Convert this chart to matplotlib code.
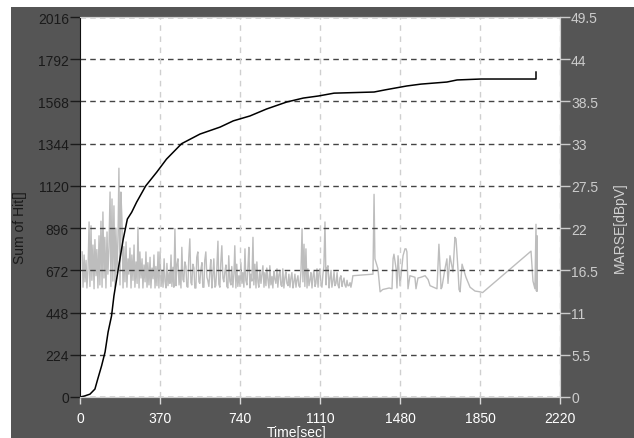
import matplotlib
matplotlib.use("Agg")
import matplotlib.pyplot as plt
from matplotlib.patches import Rectangle

plt.rcParams['font.family'] = ['Liberation Sans', 'DejaVu Sans']

# cumulative hits (left axis)
hit_t = [0, 20, 46, 69, 82, 100, 116, 130, 146, 157, 177, 200, 219, 239, 262, 304,
         355, 400, 470, 555, 648, 709, 786, 863, 956, 1033, 1103, 1175, 1360, 1414,
         1511, 1577, 1697, 1744, 1855, 2109, 2109]
hit_sum = [0, 5, 15, 42, 95, 166, 239, 345, 431, 537, 679, 838, 944, 980, 1034, 1120,
           1193, 1262, 1344, 1395, 1432, 1465, 1491, 1528, 1565, 1586, 1597, 1612, 1618, 1630,
           1650, 1660, 1671, 1682, 1687, 1687, 1724]

# MARSE (right axis)
marse_t = [10, 14, 19, 23, 28, 32, 37, 42, 46, 51, 55, 60, 65, 69, 74, 78, 83, 88, 92, 97,
           102, 106, 111, 115, 120, 125, 129, 134, 139, 143, 148, 152, 157, 162, 166, 171, 176, 180, 185, 189,
           194, 199, 203, 208, 213, 217, 222, 226, 231, 236, 240, 245, 250, 254, 259, 264, 268, 273, 277, 282,
           287, 291, 296, 301, 305, 310, 314, 319, 324, 328, 333, 338, 342, 347, 351, 356, 361, 365, 370, 375,
           380, 384, 389, 393, 398, 402, 407, 412, 416, 421, 425, 430, 434, 439, 444, 448, 453, 458, 462, 467,
           471, 476, 480, 485, 490, 494, 499, 503, 508, 513, 517, 522, 527, 531, 536, 540, 545, 550, 554, 559,
           564, 568, 573, 577, 582, 587, 591, 596, 601, 605, 610, 614, 619, 624, 628, 633, 638, 642, 647, 651,
           656, 661, 665, 670, 675, 679, 684, 688, 693, 698, 702, 707, 712, 716, 721, 725, 730, 735,
           740, 744, 749, 753, 758, 763, 767, 772, 777, 781, 786, 790, 795, 800, 804, 809, 814, 818, 823, 827,
           832, 837, 841, 846, 851, 855, 860, 864, 869, 874, 878, 883, 888, 892, 897, 901, 906, 911, 915, 920,
           925, 929, 934, 938, 943, 948, 952, 957, 962, 966, 971, 975, 980, 985, 989, 994, 999, 1003, 1008, 1012,
           1017, 1022, 1027, 1031, 1036, 1040, 1045, 1050, 1054, 1059, 1064, 1068, 1073, 1077, 1082, 1087, 1091, 1096, 1101, 1105,
           1110, 1114, 1119, 1124, 1128, 1133, 1138, 1142, 1147, 1152, 1156, 1161, 1165, 1170, 1175, 1179, 1184, 1189, 1193, 1198,
           1202, 1207, 1212, 1216, 1221, 1225, 1230, 1235, 1239, 1244, 1249, 1253,
           1258, 1262, 1350, 1355, 1360, 1364, 1378, 1388, 1400, 1430, 1443, 1448, 1452, 1462, 1466, 1471, 1480, 1494, 1503, 1508,
           1512, 1517, 1526, 1549, 1554, 1563, 1577, 1596, 1610, 1619, 1651, 1660, 1670, 1674, 1688, 1697, 1702, 1711, 1725, 1734,
           1739, 1748, 1753, 1758, 1767, 1785, 1804, 1827, 1850, 1862, 2086, 2095, 2104, 2109, 2111, 2114, 2115]
marse_db = [18.9, 14.3, 18.5, 15.0, 17.8, 14.2, 16.5, 22.8, 14.4, 22.3, 15.2, 19.8, 14.1, 20.5, 15.8, 19.2, 14.2, 21.0, 14.6, 22.9,
            14.3, 24.1, 15.5, 20.8, 14.2, 21.5, 16.0, 19.5, 26.7, 14.4, 25.8, 15.1, 24.9, 14.3, 22.0, 16.2, 21.2, 29.8, 14.6, 26.7,
            23.2, 14.2, 19.6, 15.0, 20.2, 14.3, 18.0, 16.0, 19.4, 14.2, 18.5, 15.2, 19.8, 14.3, 17.6, 14.8, 22.1, 14.2, 18.9, 15.5,
            18.0, 14.2, 17.2, 15.0, 18.9, 14.3, 17.5, 14.6, 18.2, 14.2, 16.8, 15.4, 18.5, 14.2, 17.0, 14.5, 18.9, 14.2, 18.9, 14.4,
            16.5, 14.3, 18.0, 15.1, 14.2, 17.4, 14.5, 16.2, 14.8, 18.5, 14.4, 16.9, 14.3, 21.9, 14.5, 17.2, 18.0, 14.6, 16.4, 14.2,
            19.5, 15.3, 15.0, 17.6, 17.0, 14.4, 14.3, 18.1, 20.6, 14.9, 14.6, 17.3, 16.8, 14.2, 14.2, 18.2, 18.9, 15.0, 14.8, 16.6,
            17.5, 14.3, 14.3, 17.8, 18.9, 15.6, 15.2, 14.4, 16.5, 17.9, 14.2, 15.7, 18.0, 14.3, 14.5, 16.9, 20.3, 14.7, 14.3, 17.4,
            19.7, 15.5, 15.0, 16.3, 17.2, 14.4, 14.2, 18.4, 15.1, 14.6, 17.0, 14.3, 16.1, 19.7, 14.2, 17.3, 14.4, 15.8,
            14.4, 17.5, 14.8, 16.2, 14.3, 19.3, 15.2, 14.6, 17.1, 19.5, 14.2, 16.0, 15.1, 20.8, 14.6, 17.3, 14.2, 17.6, 15.0, 14.3,
            16.5, 14.8, 15.9, 17.1, 14.3, 16.2, 14.5, 16.8, 15.3, 14.2, 17.1, 14.6, 15.7, 14.2, 16.4, 15.4, 14.8, 16.7, 14.3, 15.9,
            16.5, 14.6, 14.4, 16.7, 14.2, 15.6, 16.3, 14.8, 14.5, 16.0, 14.3, 15.4, 16.2, 14.2, 14.9, 16.0, 14.3, 15.2, 15.8, 14.5,
            14.3, 16.4, 21.9, 15.0, 19.9, 14.4, 19.3, 14.2, 16.7, 14.5, 15.3, 16.2, 14.2, 15.6, 16.5, 14.4, 14.8, 16.7, 14.3, 16.1,
            16.7, 14.8, 14.3, 16.1, 17.0, 22.8, 14.6, 16.8, 17.1, 14.2, 15.4, 16.5, 14.3, 15.1, 16.3, 14.5, 14.8, 16.2, 14.6, 14.2,
            15.5, 15.8, 14.4, 15.0, 15.5, 14.6, 14.3, 15.2, 14.5, 14.5, 14.9, 14.3,
            15.0, 15.8, 16.0, 16.0, 26.4, 18.0, 16.7, 13.7, 14.0, 14.2, 14.1, 18.0, 18.6, 16.7, 14.2, 18.4, 14.5, 18.4, 19.3, 19.3,
            18.9, 14.1, 15.8, 15.6, 14.1, 15.5, 15.6, 15.8, 15.3, 14.5, 14.1, 19.9, 14.1, 14.3, 16.7, 18.0, 14.8, 18.4, 16.3, 20.8,
            20.6, 16.7, 14.0, 13.7, 17.3, 15.6, 14.3, 13.8, 13.7, 13.6, 19.0, 15.1, 14.1, 22.5, 13.8, 21.0, 13.8]

x_ticks = [0, 370, 740, 1110, 1480, 1850, 2220]
left_ticks = [0, 224, 448, 672, 896, 1120, 1344, 1568, 1792, 2016]
right_ticks = [0, 5.5, 11, 16.5, 22, 27.5, 33, 38.5, 44, 49.5]
right_labels = ['0', '5.5', '11', '16.5', '22', '27.5', '33', '38.5', '44', '49.5']

W, H = 634, 439
fig = plt.figure(figsize=(W / 100, H / 100), dpi=100, facecolor='white')
bg = Rectangle((11 / W, 0), 1 - 11 / W, (H - 8) / H, transform=fig.transFigure,
               facecolor='#555555', edgecolor='none', zorder=-10)
fig.add_artist(bg)

rect = [80 / W, (H - 398) / H, 480 / W, 380 / H]
ax = fig.add_axes(rect)
ax2 = ax.twinx()

# gray line behind, black line on top
ax.set_zorder(2)
ax2.set_zorder(1)
ax.patch.set_visible(False)
ax2.patch.set_visible(True)
ax2.patch.set_facecolor('white')

ax2.plot(marse_t, marse_db, color='#bdbdbd', lw=1.0)
ax.plot(hit_t, hit_sum, color='black', lw=1.1)

ax.set_xlim(0, 2220)
ax.set_ylim(0, 2016)
ax2.set_ylim(0, 49.5)

ax.set_xticks(x_ticks)
ax.set_yticks(left_ticks)
ax2.set_yticks(right_ticks)
ax2.set_yticklabels(right_labels)

ax.tick_params(axis='y', colors='#1a1a1a', length=7, width=1, pad=1, labelsize=10)
ax.tick_params(axis='x', colors='#d8d8d8', labelcolor='white', length=5, width=1, pad=5, labelsize=10)
ax2.tick_params(axis='y', colors='#cccccc', length=7, width=1, pad=1, labelsize=10)

# grids
for v in left_ticks:
    ax.axhline(v, color='#444444', lw=1, ls=(0, (4, 3)), zorder=1)
for v in x_ticks[1:]:
    ax.axvline(v, color='#cfcfcf', lw=1, ls=(0, (4, 4)), zorder=1)

for s in ['top', 'right', 'bottom']:
    ax.spines[s].set_color('#d0d0d0')
    ax2.spines[s].set_color('#d0d0d0')
ax.spines['left'].set_color('#111111')
ax2.spines['left'].set_visible(False)

fig.text(20 / W, (H - 228) / H, 'Sum of Hit[]', rotation=90, ha='center', va='center',
         color='#1a1a1a', fontsize=10)
fig.text(620 / W, (H - 228) / H, 'MARSE[dBpV]', rotation=90, ha='center', va='center',
         color='#d0d0d0', fontsize=10)
fig.text(297 / W, (H - 426) / H, 'Time[sec]', ha='center', va='top', color='white', fontsize=10)

fig.savefig('out.png', dpi=100, facecolor='white')
